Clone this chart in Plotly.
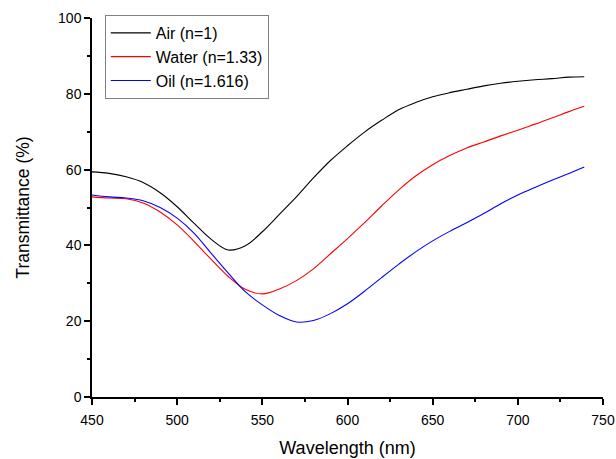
import plotly.graph_objects as go

wavelength = [450, 460, 470, 480, 490, 500, 510, 520, 530, 540, 550, 560, 570, 580, 590,
              600, 610, 620, 630, 640, 650, 660, 670, 680, 690, 700, 710, 720, 730, 739]
air = [59.4, 59.0, 58.1, 56.6, 53.9, 50.2, 45.8, 41.6, 38.8, 39.9, 43.6, 48.2, 52.8, 57.8, 62.4,
       66.3, 69.9, 73.0, 75.8, 77.7, 79.2, 80.3, 81.2, 82.1, 82.8, 83.3, 83.7, 84.0, 84.4, 84.5]
water = [52.8, 52.5, 52.3, 51.2, 48.8, 45.4, 41.0, 36.3, 31.8, 28.4, 27.2, 28.5, 30.7, 33.8, 37.8,
         41.8, 46.0, 50.4, 54.6, 58.3, 61.3, 63.7, 65.7, 67.3, 68.9, 70.4, 72.0, 73.6, 75.3, 76.7]
oil = [53.3, 52.8, 52.5, 51.8, 50.0, 47.2, 43.2, 37.9, 32.7, 27.8, 24.3, 21.5, 19.8, 20.2, 22.0,
       24.6, 27.9, 31.5, 35.0, 38.3, 41.2, 43.7, 46.0, 48.4, 51.0, 53.3, 55.3, 57.2, 59.0, 60.7]

series = [("Air (n=1)", air, "#000000"),
          ("Water (n=1.33)", water, "#ff0000"),
          ("Oil (n=1.616)", oil, "#0000ff")]

fig = go.Figure()
for name, vals, col in series:
    fig.add_trace(go.Scatter(x=wavelength, y=vals, mode="lines", name=name,
                             line=dict(color=col, width=1.1, shape="spline", smoothing=1)))

font_family = "Liberation Sans, Arial, sans-serif"
fig.update_layout(
    width=616, height=459,
    margin=dict(l=92, r=13, t=18, b=62),
    paper_bgcolor="white", plot_bgcolor="white",
    font=dict(family=font_family, size=14, color="#000000"),
    showlegend=True,
    legend=dict(x=0.025, y=1.008, xanchor="left", yanchor="top",
                bordercolor="#808080", borderwidth=1, bgcolor="white",
                font=dict(size=16, family=font_family), tracegroupgap=0,
                itemwidth=40),
    xaxis=dict(range=[450, 750], tickvals=[450, 500, 550, 600, 650, 700, 750],
               showline=True, linecolor="black", linewidth=1.5, mirror=False,
               ticks="outside", ticklen=6, tickwidth=1.5, tickcolor="black",
               ticklabelstandoff=3,
               minor=dict(dtick=25, ticks="outside", ticklen=3, tickwidth=1.5, tickcolor="black"),
               showgrid=False, zeroline=False, automargin=False,
               title=dict(text="Wavelength (nm)", font=dict(size=18), standoff=15)),
    yaxis=dict(range=[0, 100], tickvals=[0, 20, 40, 60, 80, 100],
               showline=True, linecolor="black", linewidth=1.5, mirror=False,
               ticks="outside", ticklen=6, tickwidth=1.5, tickcolor="black",
               minor=dict(dtick=10, ticks="outside", ticklen=3, tickwidth=1.5, tickcolor="black"),
               showgrid=False, zeroline=False, automargin=False,
               title=dict(text="Transmittance (%)", font=dict(size=17.5), standoff=24)),
)

fig.write_html("out.html")
